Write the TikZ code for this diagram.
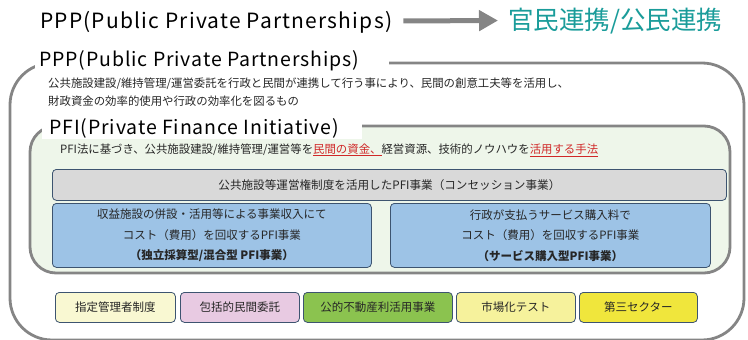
\documentclass[tikz,border=0pt]{standalone}
\usepackage{fontspec}
\setmainfont{Noto Sans CJK JP}
\usetikzlibrary{arrows.meta}
\definecolor{frame}{HTML}{858585}
\definecolor{pfifill}{HTML}{EEF6EA}
\definecolor{teal}{HTML}{1A9C9A}
\definecolor{bluefill}{HTML}{9DC3E6}
\definecolor{boxline}{HTML}{3D5470}
\definecolor{grayfill}{HTML}{D9D9D9}
\definecolor{redtxt}{HTML}{D02828}
\definecolor{yel1}{HTML}{F9F8D2}
\definecolor{pink1}{HTML}{E8CAE2}
\definecolor{green1}{HTML}{8BC34F}
\definecolor{yel2}{HTML}{F6F29C}
\definecolor{yel3}{HTML}{F0E63C}
\newcommand{\redu}[1]{\textcolor{redtxt}{\underline{#1}}}
\tikzset{
  bigtitle/.style={anchor=west, inner sep=1pt, font=\fontsize{21}{24}\selectfont\addfontfeatures{LetterSpace=5.7}},
  sectitle/.style={anchor=west, inner sep=1pt, font=\fontsize{19.5}{22}\selectfont\addfontfeatures{LetterSpace=4.5}},
  bodytxt/.style={anchor=west, inner sep=0pt, font=\fontsize{11.4}{13}\selectfont, text=black!85},
  framebox/.style={draw=frame, line width=2.8pt},
  flatbox/.style={draw=boxline, line width=0.8pt, rounded corners=4pt},
  boxtxt/.style={font=\fontsize{11.5}{20.5}\selectfont, align=center, text=black!85},
  smallbox/.style={draw=boxline, line width=0.8pt, rounded corners=4pt, minimum height=30pt, font=\fontsize{11.5}{13}\selectfont, text=black!85, anchor=north west, inner sep=0pt}
}
\begin{document}
\begin{tikzpicture}[x=1pt,y=-1pt]
\useasboundingbox (0,0) rectangle (748,340);
\clip (0,0) rectangle (748,340);
% top line
\node[bigtitle] (t1) at (39,22) {PPP(Public Private Partnerships)};
\node[anchor=west, inner sep=1pt, text=teal, font=\fontsize{25.5}{28}\selectfont] (t2) at (507,21.5) {官民連携/公民連携};
\draw[frame, line width=5pt, -{Triangle[length=19pt,width=20pt]}, shorten <=10pt, shorten >=9pt] ([yshift=1pt]t1.east) -- ([yshift=1pt]t2.west);
% outer frame
\draw[framebox, rounded corners=42pt] (10,63) rectangle (744,340);
\fill[white] (35,46) rectangle (389,70);
\node[sectitle] (ppp) at (38,61) {PPP(Public Private Partnerships)};
\node[bodytxt] (d1) at (48,84) {公共施設建設/維持管理/運営委託を行政と民間が連携して行う事により、民間の創意工夫等を活用し、};
\node[bodytxt] (d2) at (48,101) {財政資金の効率的使用や行政の効率化を図るもの};
% PFI frame
\draw[framebox, fill=pfifill, rounded corners=26pt] (30,126) rectangle (730,273);
\fill[white] (42,113) rectangle (362,139);
\node[sectitle] (pfi) at (48,128) {PFI(Private Finance Initiative)};
\node[bodytxt] (d3) at (60,150) {PFI法に基づき、公共施設建設/維持管理/運営等を\redu{民間の資金、}経営資源、技術的ノウハウを\redu{活用する手法}};
% gray box
\node[flatbox, fill=grayfill, anchor=north west, minimum width=674pt, minimum height=31pt, inner sep=0pt, font=\fontsize{11.6}{13}\selectfont, text=black!85] (con) at (52,169) {公共施設等運営権制度を活用したPFI事業（コンセッション事業）};
% blue boxes
\node[flatbox, fill=bluefill, anchor=north west, minimum width=319pt, minimum height=64pt, inner sep=0pt, boxtxt] (b1) at (52,203) {収益施設の併設・活用等による事業収入にて\\コスト（費用）を回収するPFI事業\\\textbf{（独立採算型/混合型 PFI事業）}};
\node[flatbox, fill=bluefill, anchor=north west, minimum width=320pt, minimum height=64pt, inner sep=0pt, boxtxt] (b2) at (390,203) {行政が支払うサービス購入料で\\コスト（費用）を回収するPFI事業\\\textbf{（サービス購入型PFI事業）}};
% bottom boxes
\node[smallbox, fill=yel1, minimum width=120pt] (s1) at (55,292) {指定管理者制度};
\node[smallbox, fill=pink1, minimum width=119pt] (s2) at (180,292) {包括的民間委託};
\node[smallbox, fill=green1, minimum width=149pt] (s3) at (303,292) {公的不動産利活用事業};
\node[smallbox, fill=yel2, minimum width=119pt] (s4) at (456,292) {市場化テスト};
\node[smallbox, fill=yel3, minimum width=118pt] (s5) at (579,292) {第三セクター};
\end{tikzpicture}
\end{document}
